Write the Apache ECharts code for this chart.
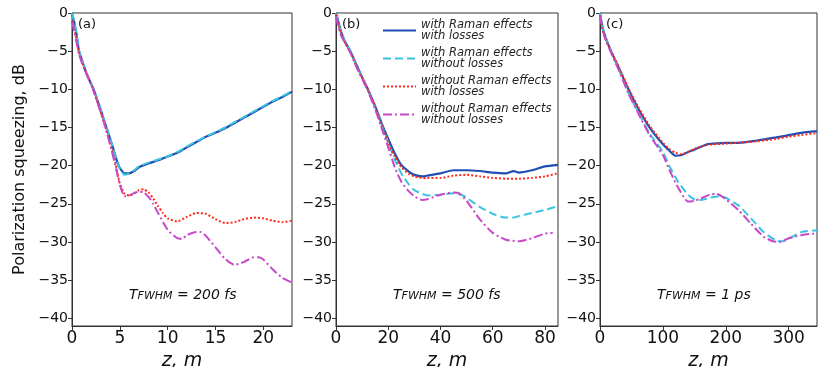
<!DOCTYPE html>
<html>
<head>
<meta charset="utf-8">
<script src="https://cdn.jsdelivr.net/npm/echarts@6/dist/echarts.min.js"></script>
<style>
  html, body { margin: 0; padding: 0; background: #fff; }
  #main { width: 818px; height: 367px; }
</style>
</head>
<body>
<div id="main"></div>
<script>
// series names (legend)
const names = [
  'with Raman effects\nwith losses',
  'with Raman effects\nwithout losses',
  'without Raman effects\nwith losses',
  'without Raman effects\nwithout losses'
]
const durations = ['200 fs', '500 fs', '1 ps']
const panelTags = ['(a)', '(b)', '(c)']
const xMax = [23, 85, 345]
const xStep = [5, 20, 100]
const yTicks = [-40, -35, -30, -25, -20, -15, -10, -5, 0]

// (a) T = 200 fs, [z, dB]
const aRamanLoss = [[0,0],[0.3,-1.6],[0.5,-3],[0.73,-5],[1,-6],[1.5,-7.9],[2.26,-10],[3,-12.7],[3.6,-15],[4.2,-17.3],[4.87,-20],[5.5,-21],[6,-21],[6.5,-20.7],[7,-20.2],[8,-19.7],[9,-19.3],[10,-18.8],[11,-18.3],[12,-17.6],[13,-16.9],[14,-16.2],[15,-15.7],[16,-15.1],[17,-14.4],[18,-13.7],[19,-13],[20,-12.3],[21,-11.6],[22,-11],[23,-10.3]]
const aRamanNoLoss = [[0,0],[0.3,-1.5],[0.5,-2.9],[0.73,-4.9],[1,-6],[1.5,-7.8],[2.26,-10],[3,-12.6],[3.6,-15],[4.2,-17.3],[4.87,-20.1],[5.5,-21.2],[6,-21],[6.5,-20.6],[7,-20.1],[8,-19.6],[9,-19.2],[10,-18.8],[11,-18.2],[12,-17.5],[13,-16.8],[14,-16.2],[15,-15.6],[16,-15],[17,-14.3],[18,-13.6],[19,-12.9],[20,-12.2],[21,-11.5],[22,-10.9],[23,-10.2]]
const aNoRamanLoss = [[0,-1],[0.3,-2.5],[0.7,-5],[1,-6.3],[2.2,-10],[3.5,-15],[4.5,-19.5],[5,-22.3],[5.5,-23.7],[6,-23.9],[6.5,-23.6],[7,-23.2],[7.5,-23.1],[8,-23.5],[8.5,-24.3],[9,-25.3],[9.5,-26.2],[10,-26.9],[11,-27.3],[12,-26.7],[13,-26.2],[14,-26.3],[15,-27],[16,-27.5],[17,-27.4],[18,-27],[19,-26.8],[20,-26.9],[21,-27.2],[22,-27.4],[23,-27.2]]
const aNoRamanNoLoss = [[0,-1.2],[0.3,-2.8],[0.7,-5.2],[1,-6.4],[2.2,-10],[3.5,-15],[4.5,-19.8],[5,-22.5],[5.5,-24],[6,-23.9],[6.5,-23.6],[7,-23.4],[7.5,-23.5],[8,-24.1],[8.5,-25],[9,-26.2],[10,-28.4],[11,-29.5],[11.5,-29.6],[12,-29.1],[13,-28.7],[13.5,-28.7],[14,-29.2],[15,-30.7],[16,-32.2],[17,-33],[18,-32.6],[19,-32],[19.5,-32],[20,-32.3],[21,-33.6],[22,-34.7],[23,-35.3]]

// (b) T = 500 fs
const bRamanLoss = [[0,0],[1,-1.3],[2,-2.5],[3.5,-3.8],[5.5,-5],[8,-6.9],[10,-8.4],[12.2,-10],[15,-12.2],[17.3,-14.3],[20,-16.5],[22.5,-18.4],[25,-19.9],[28,-20.8],[30,-21.2],[33,-21.4],[35,-21.3],[40,-21],[45,-20.6],[50,-20.6],[55,-20.7],[60,-20.9],[65,-21],[68,-20.7],[70,-20.9],[75,-20.6],[80,-20.1],[85,-19.9]]
const bRamanNoLoss = [[0,0],[1,-1.3],[2,-2.5],[3.5,-3.8],[5.5,-5],[8,-7],[10,-8.5],[12.2,-10.1],[15,-12.4],[17.3,-14.5],[20,-16.9],[22.5,-19.2],[25,-21],[28,-22.5],[30,-23.2],[33,-23.7],[35,-23.9],[40,-23.8],[45,-23.6],[48,-23.8],[50,-24.2],[55,-25.4],[60,-26.3],[65,-26.8],[68,-26.8],[70,-26.6],[75,-26.2],[80,-25.8],[84,-25.4]]
const bNoRamanLoss = [[0,-0.2],[1,-1.5],[2,-2.7],[3.5,-3.9],[5.5,-5.1],[8,-7.1],[10,-8.5],[12.2,-10],[15,-12.3],[17.3,-14.6],[20,-17],[22.5,-18.8],[25,-20.2],[28,-21.1],[30,-21.4],[33,-21.6],[35,-21.6],[40,-21.6],[45,-21.3],[50,-21.2],[55,-21.4],[60,-21.6],[65,-21.7],[70,-21.7],[75,-21.6],[80,-21.4],[85,-21]]
const bNoRamanNoLoss = [[0,-0.5],[1,-2],[2,-3],[3.5,-4],[5.5,-5.2],[8,-7.2],[10,-8.6],[12.2,-10.2],[15,-12.6],[17.3,-14.9],[20,-17.6],[22.5,-20.2],[25,-22.1],[28,-23.4],[30,-24],[33,-24.5],[35,-24.4],[40,-23.8],[45,-23.5],[47,-23.6],[50,-24.6],[55,-27],[60,-28.8],[65,-29.7],[70,-29.9],[75,-29.5],[80,-28.9],[83,-28.8]]

// (c) T = 1 ps
const cRamanLoss = [[0,0],[3,-1.5],[8,-3],[17.5,-5],[30,-7.2],[45,-10],[60,-12.4],[79,-15],[100,-17.2],[110,-18],[120,-18.7],[130,-18.6],[140,-18.2],[150,-17.9],[170,-17.2],[180,-17.1],[200,-17],[220,-17],[250,-16.7],[280,-16.3],[300,-16],[320,-15.7],[340,-15.5],[345,-15.5]]
const cRamanNoLoss = [[0,0],[3,-1.5],[8,-3],[17.5,-5],[30,-7.4],[45,-10.4],[60,-12.9],[79,-15.8],[100,-18.2],[110,-20],[125,-22.2],[140,-23.8],[150,-24.4],[160,-24.5],[175,-24.2],[190,-24],[200,-24.2],[220,-25.2],[240,-26.9],[260,-28.7],[280,-29.8],[290,-29.9],[300,-29.6],[320,-28.7],[340,-28.5],[345,-28.5]]
const cNoRamanLoss = [[0,-0.3],[3,-1.8],[8,-3.2],[17.5,-5],[30,-7.1],[45,-9.8],[60,-12.2],[79,-14.8],[100,-17],[110,-17.8],[120,-18.3],[130,-18.5],[140,-18.2],[150,-17.8],[170,-17.3],[180,-17.2],[200,-17.1],[220,-17],[250,-16.8],[280,-16.5],[300,-16.2],[320,-16],[340,-15.8],[345,-15.8]]
const cNoRamanNoLoss = [[0,-0.3],[3,-1.8],[8,-3.3],[17.5,-5.2],[30,-7.5],[45,-10.5],[60,-13],[79,-16],[100,-18.6],[110,-20.5],[125,-23],[140,-24.7],[150,-24.6],[160,-24.3],[175,-23.8],[185,-23.7],[200,-24.4],[220,-25.8],[240,-27.6],[260,-29.3],[275,-29.9],[285,-30],[300,-29.5],[320,-29.1],[340,-28.9],[345,-28.9]]

const panels = [
  [aRamanLoss, aRamanNoLoss, aNoRamanLoss, aNoRamanNoLoss],
  [bRamanLoss, bRamanNoLoss, bNoRamanLoss, bNoRamanNoLoss],
  [cRamanLoss, cRamanNoLoss, cNoRamanLoss, cNoRamanNoLoss]
]

const styles = [
  { color: '#1f4fb5', type: 'solid', width: 2.2 },
  { color: '#3cc3e0', type: [8, 4], width: 2 },
  { color: '#ff2a1a', type: [2, 2], width: 2 },
  { color: '#c848c8', type: [9, 3, 2, 3], width: 2 }
]

const font = 'DejaVu Sans'
const gridLeft = [72, 336, 600]
const gridWidth = [220, 222, 217]

const chart = echarts.init(document.getElementById('main'), null, { renderer: 'canvas' })

let grid = [], xAxis = [], yAxis = [], series = [], graphic = []
for (let p = 0; p < 3; p++) {
  grid.push({
    left: gridLeft[p], top: 13, width: gridWidth[p], height: 313,
    outerBoundsMode: 'none', containLabel: false,
    show: true, borderColor: '#333', borderWidth: 1
  })
  xAxis.push({
    gridIndex: p, type: 'value', min: 0, max: xMax[p], interval: xStep[p],
    name: 'z, m', nameLocation: 'middle', nameGap: 13,
    nameTextStyle: { fontFamily: font, fontStyle: 'italic', fontSize: 19, color: '#111' },
    axisLine: { show: true, onZero: false, lineStyle: { color: '#333' } },
    axisTick: { show: true, length: 4, lineStyle: { color: '#333' } },
    axisLabel: { fontFamily: font, fontSize: 17, color: '#111', margin: 4, showMaxLabel: false },
    splitLine: { show: false }
  })
  yAxis.push({
    gridIndex: p, type: 'value', min: -41, max: 0,
    name: p == 0 ? 'Polarization squeezing, dB' : '', nameLocation: 'middle', nameGap: 44,
    nameTextStyle: { fontFamily: font, fontSize: 16, color: '#111' },
    axisLine: { show: true, onZero: false, lineStyle: { color: '#333' } },
    axisTick: { show: true, length: 4, customValues: yTicks, lineStyle: { color: '#333' } },
    axisLabel: {
      fontFamily: font, fontSize: 14, color: '#111', margin: 4, customValues: yTicks,
      formatter: v => String(v).replace('-', '\u2212')
    },
    splitLine: { show: false }
  })
  for (let s = 0; s < 4; s++) {
    series.push({
      name: names[s], type: 'line', xAxisIndex: p, yAxisIndex: p,
      data: panels[p][s], showSymbol: false, symbol: 'none',
      smooth: 0.2,
      lineStyle: styles[s], itemStyle: { color: styles[s].color },
      z: 2 + s
    })
  }
  graphic.push({
    type: 'text', left: gridLeft[p] + 6, top: 18,
    style: { text: panelTags[p], font: '13px "DejaVu Sans"', fill: '#111' }
  })
  graphic.push({
    type: 'text', left: gridLeft[p] + 57, top: 288,
    style: {
      text: '{t|T}{s|FWHM}{t| = ' + durations[p] + '}',
      rich: {
        t: { fontFamily: font, fontStyle: 'italic', fontSize: 14, fill: '#111', verticalAlign: 'bottom' },
        s: { fontFamily: font, fontStyle: 'italic', fontSize: 11, fill: '#111', padding: [6, 0, 0, 0], verticalAlign: 'bottom' }
      }
    }
  })
}

chart.setOption({
  animation: false,
  grid, xAxis, yAxis, series, graphic,
  legend: {
    data: names, orient: 'vertical', left: 377, top: 14,
    itemWidth: 33, itemHeight: 12, itemGap: 5,
    itemStyle: { opacity: 0 },
    textStyle: { fontFamily: font, fontStyle: 'italic', fontSize: 11.5, lineHeight: 11, color: '#222' }
  }
})
</script>
</body>
</html>
